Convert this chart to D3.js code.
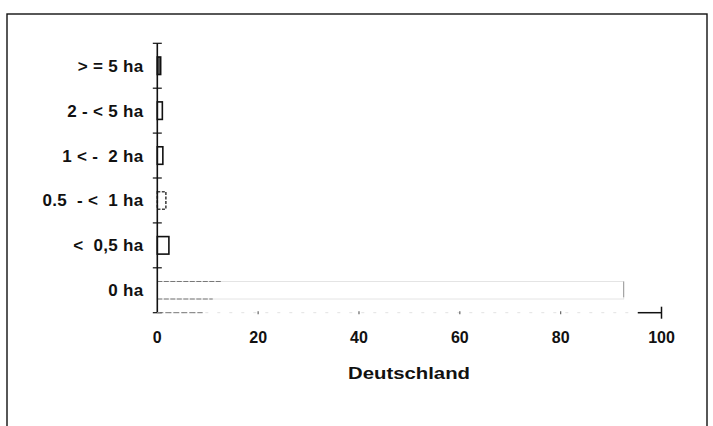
<!DOCTYPE html>
<html><head><meta charset="utf-8">
<script src="https://cdn.jsdelivr.net/npm/d3@7"></script>
<style>
body{margin:0;background:#fff;}
text{font-family:"Liberation Sans",Arial,sans-serif;white-space:pre;}
</style></head>
<body><svg id="c" width="713" height="426"></svg>
<script>
const categories = ["> = 5 ha","2 - < 5 ha","1 < -  2 ha","0.5  - <  1 ha","<  0,5 ha","0 ha"];
const values = [0.67, 1.0, 1.1, 1.7, 2.3, 92.5];
const xTicks = [0,20,40,60,80,100];
const axisTitle = "Deutschland";

const svg = d3.select("#c");
svg.append("rect").attr("x",7).attr("y",14).attr("width",700).attr("height",430)
  .attr("fill","none").attr("stroke","#111").attr("stroke-width",1.4);

const x = d3.scaleLinear().domain([0,100]).range([157.3,661.5]);
const pin = 0.61;
const y = d3.scaleBand().domain(categories).range([43.3,312.7]).paddingInner(pin).paddingOuter(pin/2);
const step = y.step();

// bars
svg.selectAll("rect.bar").data(values).enter().append("rect")
  .attr("class","bar")
  .attr("x",x(0))
  .attr("y",(d,i)=>y(categories[i]))
  .attr("width",d=>x(d)-x(0))
  .attr("height",y.bandwidth())
  .attr("fill",(d,i)=> i===0 ? "#555" : "#fff")
  .attr("stroke",(d,i)=> i===5 ? "#e4e4e4" : (i===3 ? "#444" : "#111"))
  .attr("stroke-dasharray",(d,i)=> i===3 ? "3,1.5" : null)
  .attr("stroke-width",(d,i)=> i===5 ? 1 : 1.6);

// visible left part of the long bar's edges (scan artefact)
const lastCat = categories[5];
[y(lastCat), y(lastCat)+y.bandwidth()].forEach((yy,k)=>{
  svg.append("line").attr("x1",x(0)).attr("x2",x(k===0?12.8:11)).attr("y1",yy).attr("y2",yy)
    .attr("stroke","#777").attr("stroke-width",1).attr("stroke-dasharray","5,1.5");
});
svg.append("line").attr("x1",x(values[5])).attr("x2",x(values[5]))
  .attr("y1",y(lastCat)).attr("y2",y(lastCat)+y.bandwidth()*0.9)
  .attr("stroke","#999").attr("stroke-width",1);

// y axis line
svg.append("line").attr("x1",x(0)).attr("x2",x(0)).attr("y1",43.3).attr("y2",313)
  .attr("stroke","#111").attr("stroke-width",1.6);
const bounds = d3.range(categories.length+1).map(i=>43.3 + i*step);
svg.selectAll("line.yt").data(bounds).enter().append("line")
  .attr("x1",x(0)-4.5).attr("x2",x(0)+4.5).attr("y1",d=>d).attr("y2",d=>d)
  .attr("stroke","#111").attr("stroke-width",1.2);

// y labels
svg.selectAll("text.yl").data(categories).enter().append("text")
  .attr("x",143.5).attr("y",c=>y(c)+y.bandwidth()/2+6)
  .attr("text-anchor","end").attr("font-size",17).attr("font-weight","bold")
  .attr("letter-spacing",0.3)
  .attr("fill","#111").text(c=>c);

// x axis
const y0 = 312.7;
svg.append("line").attr("x1",x(0)).attr("x2",x(100)).attr("y1",y0).attr("y2",y0)
  .attr("stroke","#e2e2e2").attr("stroke-width",1).attr("stroke-dasharray","3,9");
svg.append("line").attr("x1",x(0)).attr("x2",x(9)).attr("y1",y0).attr("y2",y0)
  .attr("stroke","#777").attr("stroke-width",1).attr("stroke-dasharray","6,2");
svg.append("line").attr("x1",x(95.3)).attr("x2",x(100)).attr("y1",y0).attr("y2",y0)
  .attr("stroke","#111").attr("stroke-width",1.5);
svg.selectAll("line.xt").data(xTicks.slice(1,5)).enter().append("line")
  .attr("x1",d=>x(d)).attr("x2",d=>x(d)).attr("y1",y0-1.5).attr("y2",y0+1.5)
  .attr("stroke","#666").attr("stroke-width",1.2);
svg.append("line").attr("x1",x(100)).attr("x2",x(100)).attr("y1",y0-6).attr("y2",y0+6)
  .attr("stroke","#111").attr("stroke-width",1.5);

svg.selectAll("text.xl").data(xTicks).enter().append("text")
  .attr("x",d=>x(d)).attr("y",343)
  .attr("text-anchor","middle").attr("font-size",16).attr("font-weight","bold")
  .attr("fill","#111").text(d=>d);

svg.append("text").attr("x",409).attr("y",379).attr("text-anchor","middle")
  .attr("font-size",17).attr("font-weight","bold").attr("fill","#111")
  .attr("textLength",122).attr("lengthAdjust","spacingAndGlyphs")
  .text(axisTitle);
</script></body></html>
